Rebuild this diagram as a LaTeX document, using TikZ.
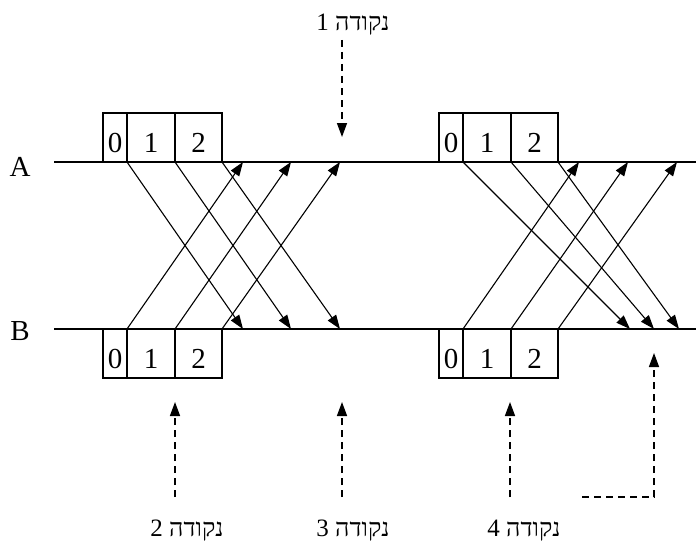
\documentclass[tikz,border=0pt]{standalone}
\usepackage{fontspec}
\setmainfont{Liberation Serif}
\newfontfamily\hebfont[Script=Hebrew]{Liberation Serif}
\TeXXeTstate=1
\usetikzlibrary{arrows.meta}
\begin{document}
\begin{tikzpicture}[x=1pt,y=-1pt,
  axis/.style={line width=1.2pt},
  msg/.style={line width=1.1pt,-{Triangle[length=14pt,width=10pt]}},
  ptr/.style={line width=1.4pt,dash pattern=on 7pt off 5pt,-{Triangle[length=14pt,width=10pt]}},
  cellbox/.style={draw,line width=1.2pt,minimum height=49pt,inner sep=0pt,outer sep=0pt,
    text height=30pt,text depth=0pt,font=\fontsize{29}{29}\selectfont},
  topcell/.style={cellbox,anchor=south west},
  botcell/.style={cellbox,anchor=north west},
  side/.style={font=\fontsize{29}{29}\selectfont},
  heb/.style={font=\fontsize{25}{25}\selectfont,anchor=base,inner sep=0pt}]
\useasboundingbox (0,0) rectangle (696,543);
% lines
\coordinate (As) at (54,162); \coordinate (Ae) at (696,162);
\coordinate (Bs) at (54,329); \coordinate (Be) at (696,329);
\draw[axis] (As) -- (Ae);
\draw[axis] (Bs) -- (Be);
\node[side] (labA) at (20,167) {A};
\node[side] (labB) at (20,331) {B};
% top cells
\node[topcell,minimum width=24pt] (ta0) at (103,162) {0};
\node[topcell,minimum width=48pt] (ta1) at (127,162) {1};
\node[topcell,minimum width=47pt] (ta2) at (175,162) {2};
\node[topcell,minimum width=24pt] (tc0) at (439,162) {0};
\node[topcell,minimum width=48pt] (tc1) at (463,162) {1};
\node[topcell,minimum width=47pt] (tc2) at (511,162) {2};
% bottom cells
\node[botcell,minimum width=24pt] (ba0) at (103,329) {0};
\node[botcell,minimum width=48pt] (ba1) at (127,329) {1};
\node[botcell,minimum width=47pt] (ba2) at (175,329) {2};
\node[botcell,minimum width=24pt] (bc0) at (439,329) {0};
\node[botcell,minimum width=48pt] (bc1) at (463,329) {1};
\node[botcell,minimum width=47pt] (bc2) at (511,329) {2};
% arrow ends on B (left)
\coordinate (dl1) at (243,329); \coordinate (dl2) at (291,329); \coordinate (dl3) at (340,329);
% arrow ends on A (left)
\coordinate (ul1) at (243,162); \coordinate (ul2) at (291,162); \coordinate (ul3) at (340,162);
% arrow ends on B (right)
\coordinate (dr1) at (630,329); \coordinate (dr2) at (654,329); \coordinate (dr3) at (679,329);
% arrow ends on A (right)
\coordinate (ur1) at (579,162); \coordinate (ur2) at (628,162); \coordinate (ur3) at (677,162);
% messages left
\draw[msg] (ta1.south west) -- (dl1);
\draw[msg] (ta2.south west) -- (dl2);
\draw[msg] (ta2.south east) -- (dl3);
\draw[msg] (ba1.north west) -- (ul1);
\draw[msg] (ba2.north west) -- (ul2);
\draw[msg] (ba2.north east) -- (ul3);
% messages right
\draw[msg] (tc1.south west) -- (dr1);
\draw[msg] (tc2.south west) -- (dr2);
\draw[msg] (tc2.south east) -- (dr3);
\draw[msg] (bc1.north west) -- (ur1);
\draw[msg] (bc2.north west) -- (ur2);
\draw[msg] (bc2.north east) -- (ur3);
% point labels
\node[heb] (p1) at (353,31) {\hebfont\beginR נקודה 1\endR};
\node[heb] (p2) at (187,536) {\hebfont\beginR נקודה 2\endR};
\node[heb] (p3) at (353,536) {\hebfont\beginR נקודה 3\endR};
\node[heb] (p4) at (524,536) {\hebfont\beginR נקודה 4\endR};
% pointer arrows
\coordinate (s1) at (342,40);  \coordinate (t1) at (342,137);
\coordinate (s2) at (175,497); \coordinate (t2) at (175,402);
\coordinate (s3) at (342,497); \coordinate (t3) at (342,402);
\coordinate (s4) at (510,497); \coordinate (t4) at (510,402);
\coordinate (s5) at (582,497); \coordinate (k5) at (654,497); \coordinate (t5) at (654,353);
\draw[ptr] (s1) -- (t1);
\draw[ptr] (s2) -- (t2);
\draw[ptr] (s3) -- (t3);
\draw[ptr] (s4) -- (t4);
\draw[ptr] (s5) -- (k5) -- (t5);
\end{tikzpicture}
\end{document}
